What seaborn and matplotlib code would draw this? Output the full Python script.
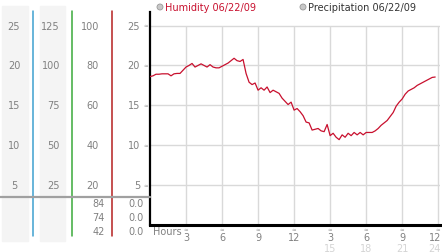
import numpy as np
import pandas as pd
import matplotlib
matplotlib.use("Agg")
import matplotlib.pyplot as plt
import matplotlib.transforms as mtransforms
from matplotlib.patches import Ellipse
import seaborn as sns

# ---- data ----
hours = [0.00, 0.25, 0.50, 0.75, 1.00, 1.25, 1.50, 1.75, 2.00, 2.25, 2.50, 2.75,
         3.00, 3.25, 3.50, 3.75, 4.00, 4.25, 4.50, 4.75, 5.00, 5.25, 5.50, 5.75,
         6.00, 6.25, 6.50, 6.75, 7.00, 7.25, 7.50, 7.75, 8.00, 8.25, 8.50, 8.75,
         9.00, 9.25, 9.50, 9.75, 10.00, 10.25, 10.50, 10.75, 11.00, 11.25, 11.50, 11.75,
         12.00, 12.25, 12.50, 12.75, 13.00, 13.25, 13.50, 13.75, 14.00, 14.25, 14.50, 14.75,
         15.00, 15.25, 15.50, 15.75, 16.00, 16.25, 16.50, 16.75, 17.00, 17.25, 17.50, 17.75,
         18.00, 18.25, 18.50, 18.75, 19.00, 19.25, 19.50, 19.75, 20.00, 20.25, 20.50, 20.75,
         21.00, 21.25, 21.50, 21.75, 22.00, 22.25, 22.50, 22.75, 23.00, 23.25, 23.50, 23.75]
humidity = [18.6, 18.7, 18.9, 18.9, 18.95, 18.95, 18.95, 18.7, 18.95, 19.0, 19.0, 19.4,
            19.8, 20.0, 20.25, 19.8, 20.0, 20.2, 20.0, 19.8, 20.1, 19.8, 19.7, 19.7,
            19.9, 20.1, 20.3, 20.6, 20.9, 20.6, 20.5, 20.75, 19.0, 17.9, 17.6, 17.8,
            16.9, 17.2, 16.9, 17.3, 16.6, 16.9, 16.7, 16.5, 15.9, 15.5, 15.1, 15.4,
            14.4, 14.6, 14.2, 13.7, 12.9, 12.8, 11.9, 12.0, 12.1, 11.8, 11.7, 12.6,
            11.2, 11.5, 11.0, 10.7, 11.3, 11.0, 11.5, 11.2, 11.6, 11.3, 11.6, 11.3,
            11.6, 11.6, 11.6, 11.8, 12.1, 12.5, 12.8, 13.1, 13.6, 14.1, 14.9, 15.4,
            15.8, 16.4, 16.8, 17.0, 17.2, 17.5, 17.7, 17.9, 18.1, 18.3, 18.5, 18.55]

y_ticks = [25, 20, 15, 10, 5]
scale1 = ["25", "20", "15", "10", "5"]
scale2 = ["125", "100", "75", "50", "25"]
scale3 = ["100", "80", "60", "40", "20"]
scale4 = ["25", "20", "15", "10", "5"]
extra3 = ["84", "74", "42"]
extra4 = ["0.0", "0.0", "0.0"]
x_ticks = [3, 6, 9, 12, 15, 18, 21, 24]
x_labels = ["3", "6", "9", "12", "3", "6", "9", "12"]
x_labels2 = {15: "15", 18: "18", 21: "21", 24: "24"}
legend1 = "Humidity 06/22/09"
legend2 = "Precipitation 06/22/09"

df = pd.DataFrame({"hour": hours, "humidity": humidity})

W, H = 442, 253
sns.set_style("white")
plt.rcParams["font.family"] = ["DejaVu Sans"]
fig = plt.figure(figsize=(W / 100, H / 100), dpi=100)
fig.patch.set_facecolor("white")

# main axes
ax = fig.add_axes([150 / W, 27 / H, 290 / W, 213 / H])
ax.set_xlim(0, 24.15)
ax.set_ylim(0, 26.7)
ax.set_facecolor("white")

grid_c = "#d9d9d9"
for yv in y_ticks:
    ax.axhline(yv, color=grid_c, lw=1, zorder=0)
ax.vlines(x_ticks, 0, 25, color=grid_c, lw=1, zorder=0)

sns.lineplot(data=df, x="hour", y="humidity", ax=ax, color="#c8102e", linewidth=0.9, zorder=3)

for s in ["top", "right"]:
    ax.spines[s].set_visible(False)
ax.spines["left"].set_color("black")
ax.spines["left"].set_linewidth(1.6)
ax.spines["bottom"].set_color("black")
ax.spines["bottom"].set_linewidth(2.2)
ax.set_xlabel("")
ax.set_ylabel("")
ax.set_xticks([])
ax.set_yticks([])

txt_c = "#808080"
fs = 7.0
fx = lambda px: px / W
fy = lambda py: 1 - py / H
blend = mtransforms.blended_transform_factory(fig.transFigure, ax.transData)

# left panel column backgrounds
for x0, x1 in [(2, 28), (40, 65)]:
    fig.add_artist(plt.Rectangle((fx(x0), fy(242)), fx(x1) - fx(x0), (242 - 7) / H,
                                 transform=fig.transFigure, color="#f4f4f4", zorder=0))
# colored separator lines
for xpos, col in [(33, "#3fa0d0"), (72, "#3aa93a"), (111.5, "#b52020")]:
    fig.add_artist(plt.Line2D([fx(xpos), fx(xpos)], [fy(12), fy(237)],
                              transform=fig.transFigure, color=col, lw=1.1, zorder=2))
# horizontal gray separator
fig.add_artist(plt.Line2D([0, fx(150)], [fy(197.5), fy(197.5)],
                          transform=fig.transFigure, color="#a0a0a0", lw=1.6, zorder=3))

for i, yv in enumerate(y_ticks):
    fig.text(fx(14), yv, scale1[i], transform=blend, ha="center", va="center", fontsize=fs, color=txt_c)
    fig.text(fx(60), yv, scale2[i], transform=blend, ha="right", va="center", fontsize=fs, color=txt_c)
    fig.text(fx(99), yv, scale3[i], transform=blend, ha="right", va="center", fontsize=fs, color=txt_c)
    fig.text(fx(140), yv, scale4[i], transform=blend, ha="right", va="center", fontsize=fs, color=txt_c)
    fig.text(fx(146), yv, "≈", transform=blend, ha="center", va="center", fontsize=4, color="#999999")

for i, py in enumerate([204, 218, 232]):
    fig.text(fx(105), fy(py), extra3[i], ha="right", va="center", fontsize=fs, color=txt_c)
    fig.text(fx(144), fy(py), extra4[i], ha="right", va="center", fontsize=fs, color=txt_c)

# x tick labels
xblend = mtransforms.blended_transform_factory(ax.transData, fig.transFigure)
for xv, lab in zip(x_ticks, x_labels):
    fig.text(xv, fy(230), "≈", transform=xblend, ha="center", va="center", fontsize=4, color="#999999")
    if xv == x_ticks[-1]:
        fig.text(fx(441), fy(238), lab, ha="right", va="center", fontsize=fs, color=txt_c)
    else:
        fig.text(xv, fy(238), lab, transform=xblend, ha="center", va="center", fontsize=fs, color=txt_c)
    if xv in x_labels2:
        if xv == x_ticks[-1]:
            fig.text(fx(441), fy(249), x_labels2[xv], ha="right", va="center",
                     fontsize=fs, color="#d4d4d4")
        else:
            fig.text(xv, fy(249), x_labels2[xv], transform=xblend, ha="center", va="center",
                     fontsize=fs, color="#d4d4d4")
fig.text(fx(153), fy(232), "Hours", ha="left", va="center", fontsize=fs, color=txt_c)

# legend
for cx, label, col in [(160, legend1, "#c8102e"), (303, legend2, "#333333")]:
    fig.add_artist(Ellipse((fx(cx), fy(8)), 6 / W, 6 / H, transform=fig.transFigure,
                           facecolor="#c8c8c8", edgecolor="#999999", lw=0.6))
    fig.text(fx(cx + 5), fy(8), label, ha="left", va="center", fontsize=fs, color=col)

fig.savefig("out.png", dpi=100, facecolor="white")
